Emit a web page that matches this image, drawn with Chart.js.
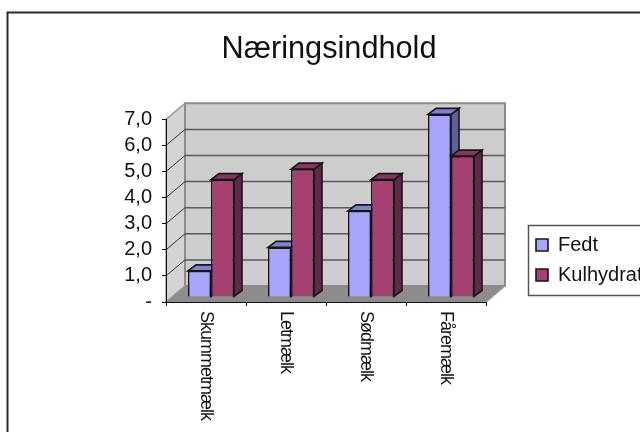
<!DOCTYPE html>
<html>
<head>
<meta charset="utf-8">
<script src="https://cdn.jsdelivr.net/npm/chart.js@4"></script>
<style>html,body{margin:0;padding:0;background:#fff;overflow:hidden}canvas{display:block}</style>
</head>
<body>
<canvas id="c" width="640" height="432"></canvas>
<script>
const categories = ['Skummetmælk', 'Letmælk', 'Sødmælk', 'Fåremælk'];
const fedt = [1.0, 1.9, 3.3, 7.0];
const kulhydrat = [4.5, 4.9, 4.5, 5.4];
const chartTitle = 'Næringsindhold';
const FONT = '"Liberation Sans", Arial, sans-serif';
const wallDepth = { x: 19, y: 16 };
const barShift = { x: 5, y: 5 };
const barDepth = { x: 8, y: 6 };
const shades = [
  { top: '#8080d0', side: '#5f5f9b' },
  { top: '#8a3560', side: '#5e2a48' }
];

function poly(ctx, pts, fill, stroke, lw) {
  ctx.beginPath();
  pts.forEach((p, i) => i ? ctx.lineTo(p[0], p[1]) : ctx.moveTo(p[0], p[1]));
  ctx.closePath();
  if (fill) { ctx.fillStyle = fill; ctx.fill(); }
  if (stroke) { ctx.strokeStyle = stroke; ctx.lineWidth = lw; ctx.stroke(); }
}

const scene = {
  id: 'scene',
  beforeLayout(chart) {
    const l = chart.legend;
    if (!l._wrapped) {
      const f = l.fit;
      l.fit = function () { f.call(this); this.width = 100; };
      l._wrapped = true;
    }
  },
  afterLayout(chart) {
    const l = chart.legend;
    l.left = 526; l.right = 760; l.top = 225; l.bottom = 295;
    chart.titleBlock.left += 36; chart.titleBlock.right += 36;
  },
  beforeDraw(chart) {
    const ctx = chart.ctx, a = chart.chartArea, y = chart.scales.y;
    const dx = wallDepth.x, dy = wallDepth.y;
    ctx.save();
    ctx.fillStyle = '#fff';
    ctx.fillRect(0, 0, chart.width, chart.height);
    // outer frame
    ctx.strokeStyle = '#2a2a2a'; ctx.lineWidth = 2;
    ctx.strokeRect(7.5, 12.5, 800, 600);
    // walls
    poly(ctx, [[a.left, a.top], [a.left + dx, a.top - dy], [a.left + dx, a.bottom - dy], [a.left, a.bottom]], '#d4d4d4', '#9a9a9a', 1.5);
    poly(ctx, [[a.left + dx, a.top - dy], [a.right + dx, a.top - dy], [a.right + dx, a.bottom - dy], [a.left + dx, a.bottom - dy]], '#cdcdcd', '#8c8c8c', 2);
    // gridlines
    y.ticks.forEach(t => {
      const py = y.getPixelForValue(t.value);
      if (t.value === 0 || t.value === y.max) return;
      ctx.strokeStyle = '#5a5a5a'; ctx.lineWidth = 1.5;
      ctx.beginPath(); ctx.moveTo(a.left + dx, py - dy); ctx.lineTo(a.right + dx, py - dy); ctx.stroke();
      ctx.strokeStyle = '#333'; ctx.lineWidth = 1;
      ctx.beginPath(); ctx.moveTo(a.left, py); ctx.lineTo(a.left + dx, py - dy); ctx.stroke();
    });
    // floor
    poly(ctx, [[a.left, a.bottom], [a.left + dx, a.bottom - dy], [a.right + dx, a.bottom - dy], [a.right, a.bottom]], '#8c8c8c', null);
    ctx.strokeStyle = '#9a9a9a'; ctx.lineWidth = 1.5;
    ctx.beginPath(); ctx.moveTo(a.left, a.bottom); ctx.lineTo(a.left + dx, a.bottom - dy); ctx.stroke();
    ctx.beginPath(); ctx.moveTo(a.right, a.bottom); ctx.lineTo(a.right + dx, a.bottom - dy); ctx.stroke();
    // legend frame
    const l = chart.legend;
    ctx.strokeStyle = '#555'; ctx.lineWidth = 1.5;
    ctx.strokeRect(528.5, l.top + 0.5, 200, l.bottom - l.top);
    ctx.restore();
  },
  beforeDatasetsDraw(chart) {
    const ctx = chart.ctx;
    ctx.save();
    ctx.translate(barShift.x, -barShift.y);
    const dx = barDepth.x, dy = barDepth.y;
    chart.data.datasets.forEach((ds, di) => {
      chart.getDatasetMeta(di).data.forEach(el => {
        const p = el.getProps(['x', 'y', 'base', 'width'], true);
        const l = p.x - p.width / 2, r = p.x + p.width / 2;
        poly(ctx, [[r, p.y], [r + dx, p.y - dy], [r + dx, p.base - dy], [r, p.base]], shades[di].side, '#161616', 1.6);
        poly(ctx, [[l, p.y], [l + dx, p.y - dy], [r + dx, p.y - dy], [r, p.y]], shades[di].top, '#161616', 1.6);
      });
    });
  },
  afterDatasetsDraw(chart) {
    chart.ctx.restore();
  }
};

new Chart(document.getElementById('c'), {
  type: 'bar',
  plugins: [scene],
  data: {
    labels: categories,
    datasets: [
      { label: 'Fedt', data: fedt, backgroundColor: '#a6a6ff', borderColor: '#161616', borderWidth: 1.6, clip: false },
      { label: 'Kulhydrat', data: kulhydrat, backgroundColor: '#a54070', borderColor: '#161616', borderWidth: 1.6, clip: false }
    ]
  },
  options: {
    responsive: false,
    animation: false,
    devicePixelRatio: 1,
    layout: { padding: { left: 0, right: 54, top: 0, bottom: 0 } },
    datasets: { bar: { categoryPercentage: 0.575, barPercentage: 1 } },
    plugins: {
      title: {
        display: true, text: chartTitle, color: '#111',
        font: { family: FONT, size: 30.7, weight: 'normal', lineHeight: 1.2 },
        padding: { top: 31, bottom: 51.5 }
      },
      legend: {
        position: 'right', align: 'start',
        labels: {
          color: '#111', boxWidth: 12, boxHeight: 12, padding: 10,
          font: { family: FONT, size: 20 }
        }
      },
      tooltip: { enabled: false }
    },
    scales: {
      x: {
        afterFit(s) {
          s.height = 130;
          s._getXAxisLabelAlignment = () => 'left';
          if (!s._squeezed) {
            const draw = s.drawLabels;
            s.drawLabels = function (area) {
              this.ctx.save();
              this.ctx.letterSpacing = '-1px';
              draw.call(this, area);
              this.ctx.restore();
            };
            s._squeezed = true;
          }
        },
        grid: { drawOnChartArea: false, drawTicks: true, tickLength: 4, color: '#111' },
        border: { color: '#111', width: 1 },
        ticks: {
          autoSkip: false, minRotation: -90, maxRotation: -90, padding: 5, color: '#111',
          font: { family: FONT, size: 18 }
        }
      },
      y: {
        min: 0, max: 7,
        afterFit(s) { s.width = 166; },
        grid: { drawOnChartArea: false, drawTicks: true, tickLength: 4, color: '#111' },
        border: { color: '#111', width: 1 },
        ticks: {
          stepSize: 1, autoSkip: false, padding: 10, color: '#111',
          font: { family: FONT, size: 20 },
          callback: v => v === 0 ? '-' : v.toFixed(1).replace('.', ',')
        }
      }
    }
  }
});
</script>
</body>
</html>
